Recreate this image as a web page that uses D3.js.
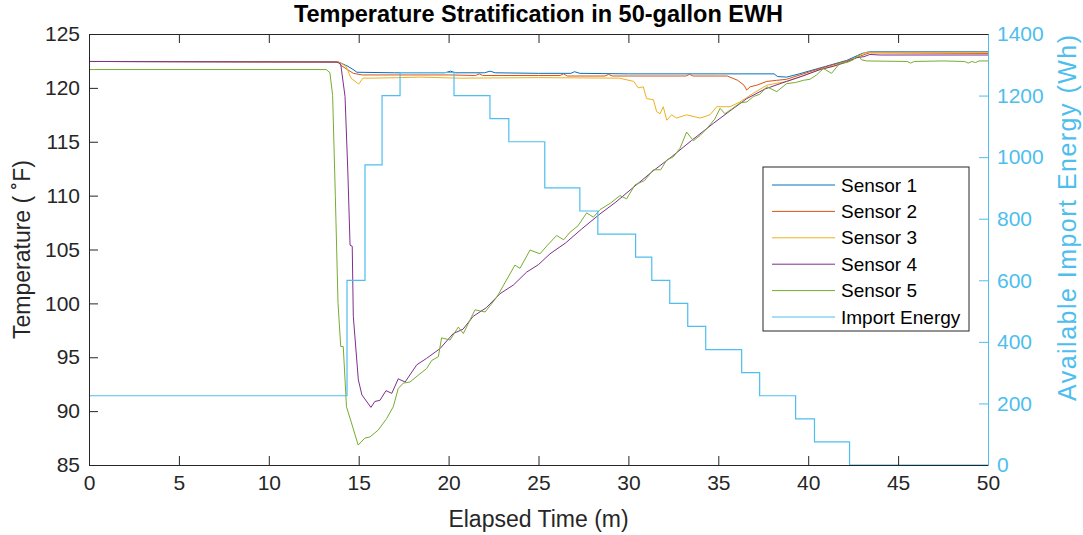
<!DOCTYPE html>
<html>
<head>
<meta charset="utf-8">
<script src="https://cdn.jsdelivr.net/npm/d3@7"></script>
<style>
  body { margin: 0; background: #fff; }
  svg { font-family: "Liberation Sans", Arial, Helvetica, sans-serif; }
</style>
</head>
<body>
<svg id="chart" width="1083" height="535"></svg>
<script>
// Daten: [Zeit (min), Temperatur (°F)]
const sensor1 = [[0,122.45],[13.5,122.4],[13.95,122.35],[14.4,122.0],[14.74,121.65],[14.9,121.45],[17,121.4],[19.8,121.4],[20.1,121.55],[20.4,121.4],[22,121.4],[22.3,121.55],[22.6,121.4],[25,121.35],[26.8,121.35],[27,121.5],[27.3,121.35],[30,121.3],[35,121.3],[38.1,121.3],[38.3,121.05],[38.8,121.0],[39.5,121.3],[40.66,121.85],[42.14,122.55],[43.0,123.2],[43.4,123.35],[50,123.35]];
const sensor2 = [[0,122.45],[13.9,122.4],[14.0,122.1],[14.7,121.35],[15.2,121.2],[20,121.2],[21.5,121.15],[21.7,121.3],[21.9,121.15],[25,121.15],[26.2,121.15],[26.4,121.3],[26.6,121.1],[28.7,121.1],[28.9,121.25],[29.1,121.1],[30,121.1],[33.2,121.1],[33.4,121.25],[33.6,121.1],[35.5,121.1],[36.08,120.7],[36.43,120.25],[36.58,119.8],[36.77,120.1],[37.14,120.25],[37.7,120.6],[38.25,120.7],[38.8,120.8],[40.66,121.8],[42.14,122.5],[43.4,123.25],[50,123.2]];
const sensor3 = [[0,122.45],[13.9,122.4],[14.3,122.0],[14.57,120.9],[15.0,120.35],[15.23,120.9],[15.63,120.9],[17.3,120.95],[18.4,121.0],[20.6,120.9],[25,120.95],[29.5,120.9],[30.3,120.6],[30.55,120.0],[30.83,120.1],[31.01,119.0],[31.39,118.9],[31.57,117.8],[31.76,117.6],[31.94,118.25],[32.13,117.0],[32.4,117.5],[32.68,117.2],[33.24,117.5],[33.98,117.2],[34.54,117.5],[34.91,118.25],[35.65,118.25],[36.21,118.7],[36.95,119.5],[37.7,120.25],[38.8,120.6],[40.66,121.7],[42.14,122.4],[43.2,123.3],[50,123.3]];
const sensor4 = [[0,122.45],[13.8,122.4],[14.0,122.2],[14.24,119.2],[14.4,112],[14.52,105.4],[14.64,105.3],[14.7,98.8],[14.98,92.9],[15.18,91.5],[15.68,90.35],[15.9,90.9],[16.18,91.0],[16.52,91.9],[16.84,91.65],[17.2,93.0],[17.58,92.7],[18.23,94.3],[18.78,94.9],[19.52,95.8],[20.26,97.2],[20.8,97.6],[21.37,98.8],[22.1,99.6],[22.86,100.9],[23.6,101.7],[24.34,102.9],[25.0,103.6],[25.64,104.6],[26.5,105.6],[27.4,106.9],[28.42,108.3],[29.3,109.4],[30.3,110.8],[31.38,112.3],[32.4,113.6],[33.5,115.1],[34.72,116.7],[35.6,117.8],[36.58,119.0],[37.6,119.9],[38.8,120.6],[39.7,121.1],[40.66,121.7],[41.4,122.0],[42.14,122.4],[42.7,122.8],[43.1,122.9],[43.43,123.1],[44,123.05],[50,123.05]];
const sensor5 = [[0,121.7],[13.2,121.7],[13.4,121.4],[13.55,119.3],[13.7,110],[13.85,100],[14.0,96.0],[14.14,96.0],[14.32,90.4],[14.6,88.9],[14.97,86.85],[15.34,87.5],[15.62,87.6],[16.09,88.25],[16.55,89.3],[16.92,90.4],[17.2,92.1],[17.48,92.6],[17.85,92.7],[18.32,93.35],[18.78,93.95],[19.06,94.7],[19.43,95.05],[19.61,96.8],[20.08,96.6],[20.54,97.8],[20.82,97.2],[21.47,99.4],[22.03,99.2],[22.69,100.6],[23.06,101.7],[23.69,103.55],[23.97,103.25],[24.53,104.95],[25.08,104.6],[25.5,105.4],[26.01,106.3],[26.4,105.9],[26.75,106.6],[27.2,107.2],[27.68,108.4],[28.05,108.0],[28.42,108.7],[29.0,109.3],[29.53,110.0],[29.9,109.7],[30.37,111.0],[30.9,111.4],[31.39,112.4],[31.8,112.4],[32.13,113.3],[32.5,113.6],[32.87,114.4],[33.24,115.9],[33.61,115.1],[34.0,115.6],[34.35,116.2],[34.8,117.1],[35.1,118.1],[35.37,117.6],[35.8,118.1],[36.21,118.6],[36.6,118.7],[36.95,119.2],[37.3,119.4],[37.7,120.1],[38.25,119.65],[38.8,120.4],[39.3,120.5],[39.73,120.7],[40.1,120.8],[40.47,121.2],[40.84,121.8],[41.3,121.35],[41.77,122.3],[42.14,122.35],[42.5,122.6],[42.78,123.05],[42.97,122.6],[43.25,122.5],[45.5,122.45],[45.7,122.3],[45.9,122.45],[47.5,122.5],[48.7,122.45],[48.9,122.3],[49.1,122.45],[49.3,122.35],[49.5,122.5],[50,122.5]];

// Verfügbare Import-Energie (Wh), Stufen
const energyTimes = [0, 14.35, 15.35, 16.3, 17.3, 20.3, 22.3, 23.35, 25.35, 27.3, 28.3, 30.4, 31.3, 32.3, 33.3, 34.3, 36.3, 37.3, 39.3, 40.35, 42.3, 50];
const energyValues = [225, 600, 975, 1200, 1275, 1200, 1125, 1050, 900, 825, 750, 675, 600, 525, 450, 375, 300, 225, 150, 75, 0, 0];

const seriesNames = ["Sensor 1", "Sensor 2", "Sensor 3", "Sensor 4", "Sensor 5", "Import Energy"];
const seriesColors = ["#0072BD", "#D95319", "#EDB120", "#7E2F8E", "#77AC30", "#4DBEEE"];

const xTicks = [0, 5, 10, 15, 20, 25, 30, 35, 40, 45, 50];
const yTicks = [85, 90, 95, 100, 105, 110, 115, 120, 125];
const y2Ticks = [0, 200, 400, 600, 800, 1000, 1200, 1400];

const margin = { left: 89, right: 95, top: 34, bottom: 70 };
const W = 1083, H = 535;
const axisColor = "#262626";
const rightColor = "#4DBEEE";

const svg = d3.select("#chart");

const x = d3.scaleLinear().domain([0, 50]).range([margin.left, W - margin.right]);
const y = d3.scaleLinear().domain([85, 125]).range([H - margin.bottom, margin.top]);
const y2 = d3.scaleLinear().domain([0, 1400]).range([H - margin.bottom, margin.top]);

const plotL = x(0), plotR = x(50), plotT = y(125), plotB = y(85);

// Linien
const line = d3.line().x(d => x(d[0])).y(d => y(d[1]));
const sensors = [sensor1, sensor2, sensor3, sensor4, sensor5];

svg.append("defs").append("clipPath").attr("id", "clip")
  .append("rect").attr("x", plotL).attr("y", plotT).attr("width", plotR - plotL).attr("height", plotB - plotT);

const plotG = svg.append("g").attr("clip-path", "url(#clip)");

sensors.forEach((s, i) => {
  plotG.append("path")
    .datum(s)
    .attr("fill", "none")
    .attr("stroke", seriesColors[i])
    .attr("stroke-width", 1)
    .attr("stroke-linejoin", "round")
    .attr("d", line);
});

const energyData = energyTimes.map((t, i) => [t, energyValues[i]]);
const energyLine = d3.line().x(d => x(d[0])).y(d => y2(d[1])).curve(d3.curveStepAfter);
plotG.append("path")
  .datum(energyData)
  .attr("fill", "none")
  .attr("stroke", seriesColors[5])
  .attr("stroke-width", 1.2)
  .attr("d", energyLine);

// Achsen
const tickLen = 9;
const fontSize = 21;

// unten
const xAxis = d3.axisBottom(x).tickValues(xTicks).tickSize(-tickLen).tickPadding(10).tickSizeOuter(0);
const gx = svg.append("g").attr("transform", `translate(0,${plotB})`).call(xAxis);
// oben
const xAxisTop = d3.axisTop(x).tickValues(xTicks).tickSize(-tickLen).tickFormat("").tickSizeOuter(0);
const gxt = svg.append("g").attr("transform", `translate(0,${plotT})`).call(xAxisTop);
// links
const yAxis = d3.axisLeft(y).tickValues(yTicks).tickSize(-tickLen).tickPadding(9).tickSizeOuter(0);
const gy = svg.append("g").attr("transform", `translate(${plotL},0)`).call(yAxis);
// rechts
const y2Axis = d3.axisRight(y2).tickValues(y2Ticks).tickSize(-tickLen).tickPadding(9)
  .tickFormat(d3.format("d")).tickSizeOuter(0);
const gy2 = svg.append("g").attr("transform", `translate(${plotR},0)`).call(y2Axis);

[gx, gxt, gy].forEach(g => {
  g.selectAll(".domain").attr("stroke", axisColor).attr("stroke-width", 1);
  g.selectAll(".tick line").attr("stroke", axisColor).attr("stroke-width", 1);
  g.selectAll(".tick text").attr("fill", axisColor).style("font-size", fontSize + "px");
});
gy2.selectAll(".domain").attr("stroke", rightColor).attr("stroke-width", 1);
gy2.selectAll(".tick line").attr("stroke", rightColor);
gy2.selectAll(".tick text").attr("fill", rightColor).style("font-size", fontSize + "px");
gy2.selectAll(".tick").filter(d => d === 0 || d === 1400).select("line").remove();

// Titel und Beschriftungen
svg.append("text")
  .attr("x", (plotL + plotR) / 2).attr("y", 22)
  .attr("text-anchor", "middle")
  .style("font-size", "23.5px").style("font-weight", "bold")
  .attr("fill", "#000")
  .text("Temperature Stratification in 50-gallon EWH");

svg.append("text")
  .attr("x", (plotL + plotR) / 2).attr("y", 527)
  .attr("text-anchor", "middle")
  .style("font-size", "23px")
  .attr("fill", axisColor)
  .text("Elapsed Time (m)");

svg.append("text")
  .attr("transform", `translate(30,${(plotT + plotB) / 2}) rotate(-90)`)
  .attr("text-anchor", "middle")
  .style("font-size", "23px")
  .attr("fill", axisColor)
  .text("Temperature ( ˚F)");

svg.append("text")
  .attr("transform", `translate(1076,218) rotate(-90)`)
  .attr("text-anchor", "middle")
  .attr("textLength", 366)
  .attr("lengthAdjust", "spacing")
  .style("font-size", "25px")
  .attr("fill", rightColor)
  .text("Available Import Energy (Wh)");

// Legende
const leg = svg.append("g").attr("transform", "translate(763,167)");
leg.append("rect")
  .attr("width", 206).attr("height", 164)
  .attr("fill", "#fff").attr("stroke", axisColor).attr("stroke-width", 1);
seriesNames.forEach((name, i) => {
  const ly = 18 + i * 26.4;
  leg.append("line")
    .attr("x1", 9).attr("x2", 72).attr("y1", ly).attr("y2", ly)
    .attr("stroke", seriesColors[i]).attr("stroke-width", 1);
  leg.append("text")
    .attr("x", 78).attr("y", ly + 6.5)
    .style("font-size", "19px")
    .attr("fill", "#000")
    .text(name);
});
</script>
</body>
</html>
